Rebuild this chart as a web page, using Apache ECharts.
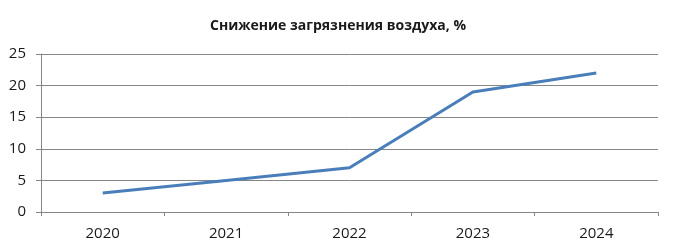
<!DOCTYPE html>
<html><head><meta charset="utf-8">
<script src="https://cdn.jsdelivr.net/npm/echarts@6/dist/echarts.min.js"></script>
<style>html,body{margin:0;padding:0;background:#fff}#c{width:676px;height:251px}</style>
</head><body><div id="c"></div>
<script>
const titleText = 'Снижение загрязнения воздуха, %';
const categories = ['2020', '2021', '2022', '2023', '2024'];
const values = [3, 5, 7, 19, 22];
const yTicks = { min: 0, max: 25, interval: 5 };

const chart = echarts.init(document.getElementById('c'), null, { renderer: 'canvas' });
chart.setOption({
  animation: false,
  backgroundColor: '#ffffff',
  title: {
    text: titleText, left: 'center', top: 14,
    textStyle: { fontFamily: 'Open Sans', fontSize: 14, fontWeight: 'bold', color: '#1a1a1a' }
  },
  grid: { left: 41, right: 18, top: 54, bottom: 39, containLabel: false },
  xAxis: {
    type: 'category', data: categories, boundaryGap: true,
    axisLine: { lineStyle: { color: '#868686', width: 1 } },
    axisTick: { show: true, length: 4, lineStyle: { color: '#868686' }, alignWithLabel: false },
    axisLabel: { color: '#1a1a1a', fontFamily: 'Open Sans', fontSize: 15, margin: 14 }
  },
  yAxis: {
    type: 'value', min: yTicks.min, max: yTicks.max, interval: yTicks.interval,
    axisLine: { show: true, lineStyle: { color: '#868686', width: 1 } },
    axisTick: { show: true, length: 5, lineStyle: { color: '#868686' } },
    axisLabel: { color: '#1a1a1a', fontFamily: 'Open Sans', fontSize: 15, margin: 15 },
    splitLine: { show: true, lineStyle: { color: '#868686', width: 1 } }
  },
  series: [{
    type: 'line', data: values, symbol: 'none',
    lineStyle: { color: '#4a7ebb', width: 3 }
  }]
});
</script></body></html>
